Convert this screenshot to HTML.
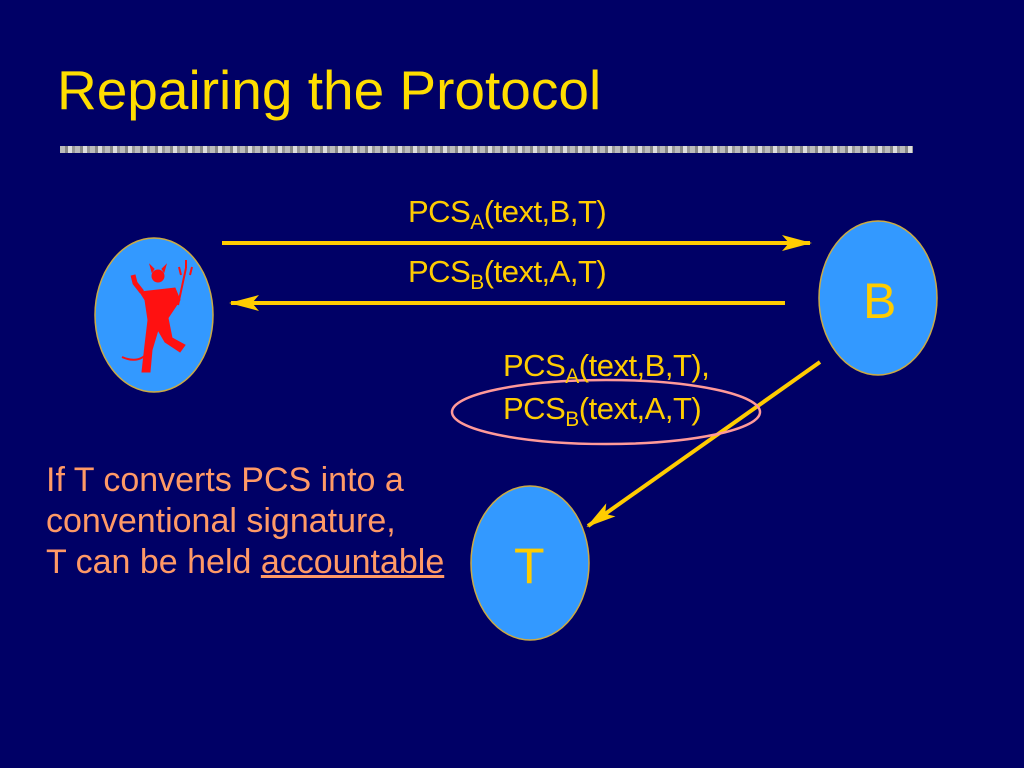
<!DOCTYPE html>
<html><head><meta charset="utf-8"><style>
html,body{margin:0;padding:0;}
body{width:1024px;height:768px;background:#000066;position:relative;overflow:hidden;font-family:"Liberation Sans",sans-serif;}
.t{position:absolute;color:#ffcc00;font-size:31px;white-space:nowrap;letter-spacing:-0.5px;}
.t sub{font-size:21px;vertical-align:-7px;line-height:0;}
</style></head><body>
<div style="position:absolute;left:57px;top:58px;font-size:55px;color:#ffdd00;">Repairing the Protocol</div>
<div style="position:absolute;left:60px;top:146px;width:853px;height:7px;background:repeating-linear-gradient(90deg,#bbb 0 5px,#888 5px 8px,#ddd 8px 12px,#999 12px 15px);"></div>
<svg width="1024" height="768" style="position:absolute;left:0;top:0">
<defs>
<marker id="b" markerWidth="30" markerHeight="16" refX="28" refY="8" orient="auto" markerUnits="userSpaceOnUse"><path d="M0,0 L30,8 L0,16 L7,8z" fill="#ffcc00"/></marker></defs>
<ellipse cx="154" cy="315" rx="59" ry="77" fill="#3399ff" stroke="#ccaa44" stroke-width="1.5"/>
<ellipse cx="878" cy="298" rx="59" ry="77" fill="#3399ff" stroke="#ccaa44" stroke-width="1.5"/>
<ellipse cx="530" cy="563" rx="59" ry="77" fill="#3399ff" stroke="#ccaa44" stroke-width="1.5"/>
<line x1="222" y1="243" x2="810" y2="243" stroke="#ffcc00" stroke-width="4" marker-end="url(#b)"/>
<line x1="785" y1="303" x2="231" y2="303" stroke="#ffcc00" stroke-width="4" marker-end="url(#b)"/>
<line x1="820" y1="362" x2="588" y2="526" stroke="#ffcc00" stroke-width="4" marker-end="url(#b)"/>
<ellipse cx="606" cy="412" rx="154" ry="32" fill="none" stroke="#ff9999" stroke-width="2.5"/>
<g fill="#ff1111" stroke="#ff1111">
<circle cx="158" cy="276" r="6"/>
<path d="M152,272 l-2,-7 l4,4z M164,272 l2,-7 l-4,4z"/>
<path d="M140,292 L175,288 L180,300 L168,318 L172,338 L185,345 L180,352 L165,342 L158,330 L152,350 L150,372 L142,372 L145,345 L148,320 L145,300 z" stroke-width="1"/>
<path d="M142,292 L135,283 L133,275" fill="none" stroke-width="5"/>
<path d="M150,350 Q140,365 122,357" fill="none" stroke-width="2"/>
<path d="M178,305 L186,268 M181,275 l-2,-8 M186,268 v-8 M190,275 l2,-8" fill="none" stroke-width="2"/>
</g>
</svg>
<div class="t" style="left:408px;top:194px;">PCS<sub>A</sub>(text,B,T)</div>
<div class="t" style="left:408px;top:254px;">PCS<sub>B</sub>(text,A,T)</div>
<div class="t" style="left:503px;top:348px;">PCS<sub>A</sub>(text,B,T),</div>
<div class="t" style="left:503px;top:391px;">PCS<sub>B</sub>(text,A,T)</div>
<div style="position:absolute;left:863px;top:272px;font-size:50px;color:#ffcc00;">B</div>
<div style="position:absolute;left:514px;top:537px;font-size:50px;color:#ffcc00;">T</div>
<div style="position:absolute;left:46px;top:460px;font-size:34px;line-height:41px;color:#ff9966;">If T converts PCS into a<br>conventional signature,<br>T can be held <u>accountable</u></div>
</body></html>
